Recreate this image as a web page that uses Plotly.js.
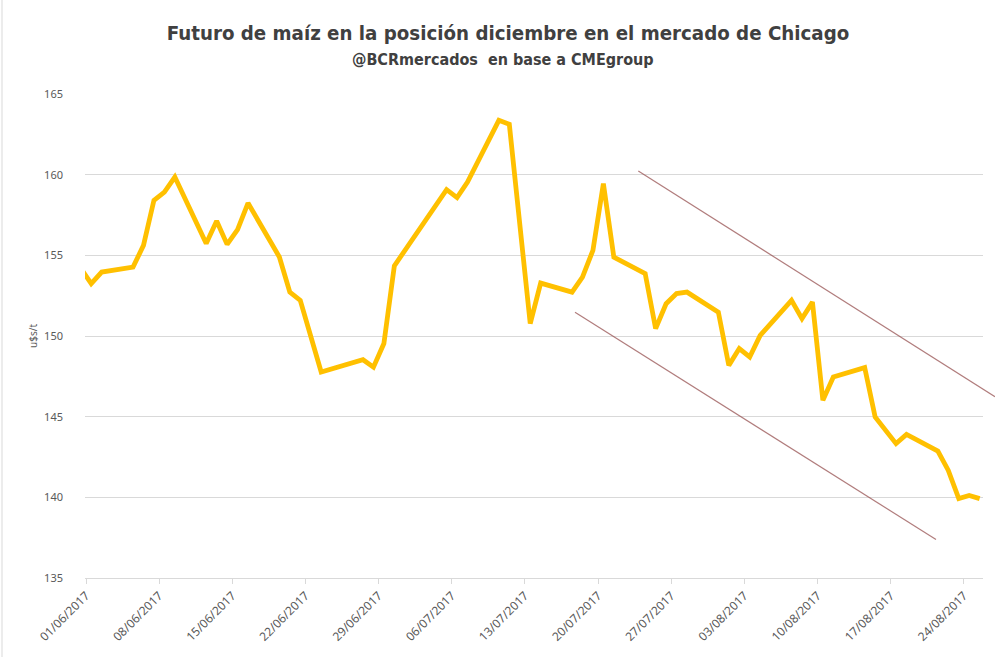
<!DOCTYPE html>
<html>
<head>
<meta charset="utf-8">
<script src="https://cdn.plot.ly/plotly-3.0.1.min.js"></script>
<style>
  html, body { margin: 0; padding: 0; background: #ffffff; overflow: hidden; }
  #chart { width: 995px; height: 657px; }
</style>
</head>
<body>
<div id="chart"></div>
<script>
// ---- Data ----
const chartTitle = 'Futuro de maíz en la posición diciembre en el mercado de Chicago';
const chartSubtitle = '@BCRmercados&nbsp; en base a CMEgroup';
const yAxisTitle = 'u$s/t';

const dates = [
  '2017-05-31', '2017-06-01', '2017-06-02', '2017-06-05', '2017-06-06', '2017-06-07',
  '2017-06-08', '2017-06-09', '2017-06-12', '2017-06-13', '2017-06-14', '2017-06-15',
  '2017-06-16', '2017-06-19', '2017-06-20', '2017-06-21', '2017-06-23', '2017-06-27',
  '2017-06-28', '2017-06-29', '2017-06-30', '2017-07-05', '2017-07-06', '2017-07-07',
  '2017-07-10', '2017-07-11', '2017-07-13', '2017-07-14', '2017-07-17', '2017-07-18',
  '2017-07-19', '2017-07-20', '2017-07-21', '2017-07-24', '2017-07-25', '2017-07-26',
  '2017-07-27', '2017-07-28', '2017-07-31', '2017-08-01', '2017-08-02', '2017-08-03',
  '2017-08-04', '2017-08-07', '2017-08-08', '2017-08-09', '2017-08-10', '2017-08-11',
  '2017-08-14', '2017-08-15', '2017-08-17', '2017-08-18', '2017-08-21', '2017-08-22',
  '2017-08-23', '2017-08-24', '2017-08-25'
];
const prices = [
  154.2, 153.25, 153.96, 154.27, 155.62, 158.41,
  158.92, 159.85, 155.73, 157.13, 155.68, 156.59,
  158.24, 154.9, 152.72, 152.21, 147.77, 148.53,
  148.07, 149.53, 154.35, 159.07, 158.58, 159.54,
  163.37, 163.12, 150.77, 153.28, 152.72, 153.65,
  155.31, 159.45, 154.89, 153.87, 150.46, 152.0,
  152.63, 152.72, 151.48, 148.18, 149.22, 148.7,
  150.04, 152.21, 151.08, 152.1, 146.01, 147.46,
  148.04, 144.98, 143.33, 143.9, 142.87, 141.67,
  139.92, 140.12, 139.92
];

const yTickValues = [135, 140, 145, 150, 155, 160, 165];
const xTickStart = '2017-06-01';
const xRange = ['2017-05-31 21:42', '2017-08-25 19:40'];

// ---- Layout geometry (pixels of the 995x657 canvas) ----
const W = 995, H = 657;
const plotLeft = 85, plotRight = 983, plotTop = 94, plotBottom = 578;
const pw = plotRight - plotLeft, ph = plotBottom - plotTop;
const px = x => (x - plotLeft) / pw;
const py = y => (plotBottom - y) / ph;

const grey = '#595959';
const trendColor = 'rgba(150,80,80,0.75)';
const titleFamily = 'Liberation Sans Narrow, DejaVu Sans Condensed, Arial Narrow, sans-serif';
const DAY = 24 * 3600 * 1000;

const trace = {
  type: 'scatter',
  mode: 'lines',
  x: dates,
  y: prices,
  xperiod: DAY,
  xperiodalignment: 'middle',
  line: { color: '#FFC000', width: 4.8, shape: 'linear' },
  hoverinfo: 'x+y',
  showlegend: false
};

const layout = {
  width: W,
  height: H,
  paper_bgcolor: '#ffffff',
  plot_bgcolor: '#ffffff',
  margin: { l: plotLeft, r: W - plotRight, t: plotTop, b: H - plotBottom, pad: 0, autoexpand: false },
  showlegend: false,
  title: {
    text: '<b>' + chartTitle + '</b>',
    font: { family: titleFamily, size: 20.3, color: '#404040' },
    x: 508 / W, xanchor: 'center', xref: 'container',
    y: 1 - 33 / H, yanchor: 'middle', yref: 'container',
    automargin: false
  },
  annotations: [{
    text: '<b>' + chartSubtitle + '</b>',
    xref: 'paper', yref: 'paper',
    x: px(503), y: py(60), xanchor: 'center', yanchor: 'middle',
    showarrow: false,
    font: { family: titleFamily, size: 16, color: '#404040' }
  }],
  xaxis: {
    type: 'date',
    automargin: false,
    autorange: false,
    range: xRange,
    tick0: xTickStart,
    dtick: 7 * DAY,
    tickformat: '%d/%m/%Y',
    tickangle: -45,
    ticks: 'outside',
    ticklen: 5,
    tickcolor: '#d9d9d9',
    showline: true,
    linecolor: '#d9d9d9',
    linewidth: 1,
    showgrid: false,
    zeroline: false,
    tickfont: { family: 'Noto Sans, sans-serif', size: 12, color: grey },
    fixedrange: true
  },
  yaxis: {
    automargin: false,
    range: [135, 165],
    tickvals: yTickValues,
    ticks: '',
    ticklabelstandoff: 21,
    showline: false,
    showgrid: true,
    gridcolor: '#d9d9d9',
    gridwidth: 1,
    zeroline: false,
    tickfont: { family: 'Noto Sans, sans-serif', size: 11, color: grey },
    title: { text: yAxisTitle, font: { family: 'Noto Sans, sans-serif', size: 10, color: grey }, standoff: 4 },
    fixedrange: true
  },
  shapes: [
    // channel lines drawn over the chart
    { type: 'line', xref: 'paper', yref: 'paper',
      x0: px(638.3), y0: py(171), x1: px(995), y1: py(396.7),
      line: { color: trendColor, width: 1.2 } },
    { type: 'line', xref: 'paper', yref: 'paper',
      x0: px(575), y0: py(312.3), x1: px(936), y1: py(539.5),
      line: { color: trendColor, width: 1.2 } },
    // chart frame edge at the left
    { type: 'line', xref: 'paper', yref: 'paper',
      x0: px(2), y0: py(0), x1: px(2), y1: py(H),
      line: { color: '#d9d9d9', width: 1 } }
  ]
};

Plotly.newPlot('chart', [trace], layout, { displayModeBar: false, staticPlot: true });
</script>
</body>
</html>
